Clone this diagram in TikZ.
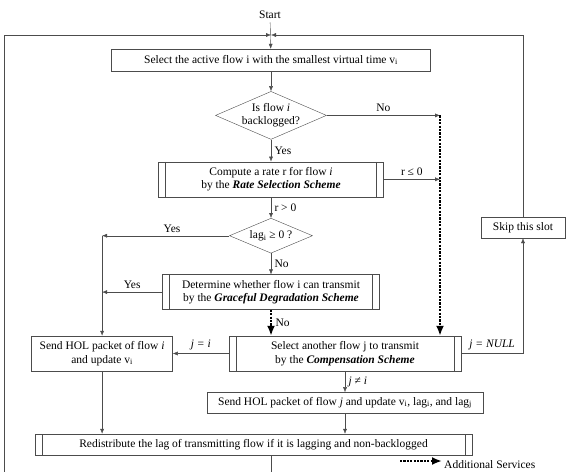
\documentclass[tikz,border=0pt]{standalone}
\usepackage{fontspec}
\setmainfont{Liberation Serif}
\usepackage{xcolor}
\usepackage{tikz}
\usetikzlibrary{shapes.geometric, arrows.meta, positioning, calc}

\begin{document}
\begin{tikzpicture}[
    x=1pt, y=1pt,
    font=\fontsize{11.5}{13.5}\selectfont,
    plainbox/.style={rectangle, draw=black!70, minimum height=21pt, inner sep=2pt, text centered, align=center},
    procbox/.style={plainbox, minimum height=35pt,
        path picture={
            \draw[black!70] ([xshift=7pt]path picture bounding box.north west) -- ([xshift=7pt]path picture bounding box.south west);
            \draw[black!70] ([xshift=-7pt]path picture bounding box.north east) -- ([xshift=-7pt]path picture bounding box.south east);
        }},
    decision/.style={diamond, draw=black!70, aspect=2.4, inner sep=-2pt, align=center},
    arrow/.style={-{Latex[length=5pt,width=4pt]}, draw=black!70},
    dasharrow/.style={-{Latex[length=10pt,width=8pt]}, draw=black, line width=2.6pt, dash pattern=on 2.2pt off 1.2pt}
]
    \useasboundingbox (0,0) rectangle (567,-471);

    % Start and first selection
    \node (start) at (270,-15) {Start};
    \node[plainbox, minimum width=319pt, minimum height=22pt] (select) at (271,-60)
        {Select the active flow i with the smallest virtual time v\textsubscript{i}};

    % Backlogged test
    \node[decision, minimum width=111pt, minimum height=48pt, below=20pt of select] (backlog)
        {Is flow \textit{i}\\backlogged?};

    % Rate selection
    \node[procbox, minimum width=225pt, below=22pt of backlog] (rate)
        {Compute a rate r for flow \textit{i}\\by the \textbf{\textit{Rate Selection Scheme}}};

    % Lag test
    \node[decision, minimum width=83pt, minimum height=35pt, below=21pt of rate] (lagchk)
        {lag\textsubscript{i} ≥ 0 ?};

    % Graceful degradation
    \node[procbox, minimum width=217pt, below=21pt of lagchk] (graceful)
        {Determine whether flow i can transmit\\by the \textbf{\textit{Graceful Degradation Scheme}}};

    % Compensation
    \node[procbox, minimum width=232pt] (comp) at (345,-353.5)
        {Select another flow j to transmit\\by the \textbf{\textit{Compensation Scheme}}};
    \node[plainbox, minimum width=141pt, minimum height=35pt, left=56pt of comp] (sendi)
        {Send HOL packet of flow \textit{i}\\and update v\textsubscript{i}};
    \node[plainbox, minimum width=276pt, below=21pt of comp] (sendj)
        {Send HOL packet of flow \textit{j} and update v\textsubscript{i}, lag\textsubscript{i}, and lag\textsubscript{j}};

    % Skip
    \node[plainbox, minimum width=84pt] (skip) at (523,-227.5) {Skip this slot};

    % Redistribution
    \node[procbox, minimum width=437pt, minimum height=21pt] (redis) at (253.5,-444.5)
        {Redistribute the lag of transmitting flow if it is lagging and non-backlogged};

    % Loop corners and column
    \coordinate (topmid) at (271,-35);
    \coordinate (loopl) at (4,-35);
    \coordinate (colx) at (440,0);

    % Legend
    \coordinate (leg1) at (400,-461);
    \coordinate (leg2) at (442,-461);
    \node[anchor=west, inner sep=1pt] (legtext) at (443,-465) {Additional Services};

    % Connect components
    \draw[arrow] (start) -- (select);
    \draw[arrow] (select) -- (backlog);
    \draw[arrow] (backlog) -- node[right] {Yes} (rate);
    \draw[arrow] (rate) -- node[right] {r > 0} (lagchk);
    \draw[arrow] (lagchk) -- node[right] {No} (graceful);
    \draw[arrow] (backlog.east) -- node[above] {No} (backlog.east -| colx);
    \draw[arrow] (rate.east) -- node[above] {r ≤ 0} (rate.east -| colx);
    \draw[arrow] (lagchk.west) -- node[above, pos=0.45] {Yes} (lagchk.west -| sendi);
    \draw[arrow] (lagchk.west -| sendi) -- (sendi);
    \draw[arrow] (graceful.west) -- node[above] {Yes} (graceful.west -| sendi);
    \draw[arrow] (comp) -- node[above] {\textit{j = i}} (sendi);
    \draw[arrow] (comp.east) -- node[above] {\textit{j = NULL}} (comp.east -| skip) -- (skip);
    \draw[arrow] (comp) -- node[right] {\textit{j} ≠ \textit{i}} (sendj);
    \draw[arrow] (sendj) -- (sendj |- redis.north);
    \draw[arrow] (sendi) -- (sendi |- redis.north);

    % Loop back
    \draw[arrow] (skip) -- (skip |- topmid) -- (topmid);
    \draw[arrow] (redis.south -| topmid) -- ++(0,-30) -| (loopl) -- (topmid);

    % Additional services
    \draw[dasharrow] (backlog.east -| colx) -- (colx |- comp.north);
    \draw[dasharrow] (graceful) -- node[right] {No} (graceful.south |- comp.north);
    \draw[dasharrow] (leg1) -- (leg2);

\end{tikzpicture}
\end{document}
